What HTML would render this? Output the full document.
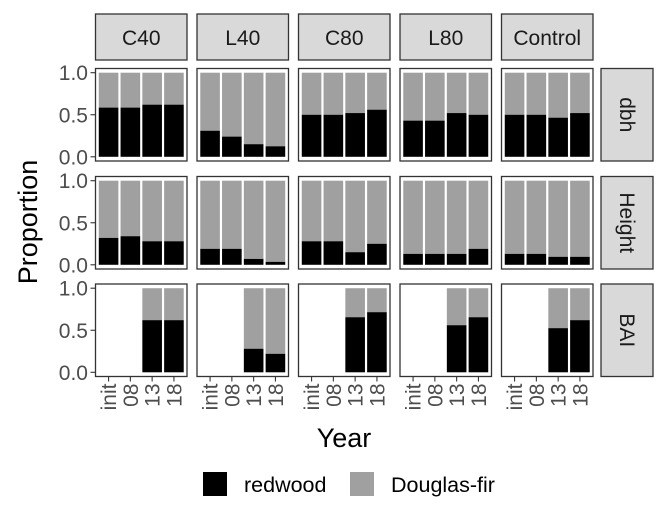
<!DOCTYPE html>
<html><head><meta charset="utf-8"><style>
body{margin:0;background:#fff}
svg{display:block;font-family:"Liberation Sans",Arial,sans-serif}
</style></head><body>
<svg id="c" width="668" height="528" viewBox="0 0 668 528"></svg>
<script>
const treatments=["C40","L40","C80","L80","Control"];
const metrics=["dbh","Height","BAI"];
const years=["init","08","13","18"];
const yTicks=[0,0.5,1];
const tickLabels=["0.0","0.5","1.0"];
// redwood proportion per metric per treatment per year (null = missing)
const dbhVals=[[0.585,0.585,0.62,0.62],[0.31,0.24,0.15,0.125],[0.50,0.50,0.52,0.56],[0.43,0.43,0.52,0.50],[0.50,0.50,0.465,0.52]];
const heightVals=[[0.32,0.34,0.28,0.28],[0.19,0.19,0.07,0.035],[0.28,0.28,0.15,0.25],[0.13,0.13,0.13,0.19],[0.13,0.13,0.095,0.095]];
const baiVals=[[null,null,0.62,0.62],[null,null,0.28,0.22],[null,null,0.655,0.715],[null,null,0.56,0.655],[null,null,0.525,0.62]];
const allVals=[dbhVals,heightVals,baiVals];

const svg=document.getElementById('c');
const NS="http://www.w3.org/2000/svg";
function mk(t,a,p){const e=document.createElementNS(NS,t);for(const k in a)e.setAttribute(k,a[k]);(p||svg).appendChild(e);return e;}
const colX=[95.5,197,298.5,400,501.5], PW=91.5;
const rowY=[68.5,176.5,284], PH=92.5;
function yScale(r,v){const b=rowY[r]+PH, unit=PH/1.1;return b-unit*0.05-v*unit;}
function xScale(c,i){const unit=PW/4.2;return colX[c]+unit*(i+1-0.4);}
const bw=PW/4.2*0.9;

treatments.forEach((t,c)=>{
  const r=mk('rect',{x:colX[c],y:14,width:PW,height:46,fill:'#d9d9d9',stroke:'#333','stroke-width':1.3});
  
  const tx=mk('text',{x:colX[c]+PW/2,y:45,'text-anchor':'middle','font-size':21,fill:'#1a1a1a'});tx.textContent=t;
  
});
metrics.forEach((m,r)=>{
  const s=mk('rect',{x:601,y:rowY[r],width:52,height:PH,fill:'#d9d9d9',stroke:'#333','stroke-width':1.3});
  
  const cx=620,cy=rowY[r]+PH/2;
  const tx=mk('text',{x:cx,y:cy,'text-anchor':'middle','font-size':21,fill:'#1a1a1a',transform:`rotate(90 ${cx} ${cy})`});tx.textContent=m;
  
  yTicks.forEach((v,k)=>{
    const y=yScale(r,v);
    mk('line',{x1:90.5,x2:95.5,y1:y,y2:y,stroke:'#333','stroke-width':1.1});
    const l=mk('text',{x:88,y:y+7.5,'text-anchor':'end','font-size':21,fill:'#4d4d4d'});l.textContent=tickLabels[k];
    
  });
  treatments.forEach((t,c)=>{
    const g=mk('g',{});
    
    allVals[r][c].forEach((v,i)=>{
      if(v===null)return;
      const x=xScale(c,i)-bw/2;
      const top=yScale(r,1),mid=yScale(r,v),bot=yScale(r,0);
      const a=mk('rect',{x:x,y:top,width:bw,height:mid-top,fill:'#a0a0a0'},g);
      
      const b=mk('rect',{x:x,y:mid,width:bw,height:bot-mid,fill:'#000'},g);
      
    });
    mk('rect',{x:colX[c],y:rowY[r],width:PW,height:PH,fill:'none',stroke:'#333','stroke-width':1.3},g);
  });
});
treatments.forEach((t,c)=>{
  years.forEach((yr,i)=>{
    const x=xScale(c,i), y0=rowY[2]+PH;
    mk('line',{x1:x,x2:x,y1:y0,y2:y0+5,stroke:'#333','stroke-width':1.1});
    const ty=y0+7;
    const l=mk('text',{x:x,y:ty,'text-anchor':'end','font-size':21,fill:'#4d4d4d',transform:`rotate(-90 ${x} ${ty}) translate(0 7.5)`});
    l.textContent=yr;
    
  });
});
const yt=mk('text',{x:37,y:222,'text-anchor':'middle','font-size':27,fill:'#000',transform:'rotate(-90 37 222)'});yt.textContent='Proportion';

const xt=mk('text',{x:344,y:447,'text-anchor':'middle','font-size':27,fill:'#000'});xt.textContent='Year';

const k1=mk('rect',{x:203,y:472,width:24,height:24,fill:'#000'});

const t1=mk('text',{x:244,y:492,'font-size':21.5,fill:'#000'});t1.textContent='redwood';

const k2=mk('rect',{x:350,y:472,width:24,height:24,fill:'#a0a0a0'});

const t2=mk('text',{x:391,y:492,'font-size':21.5,fill:'#000'});t2.textContent='Douglas-fir';

</script>
</body></html>
